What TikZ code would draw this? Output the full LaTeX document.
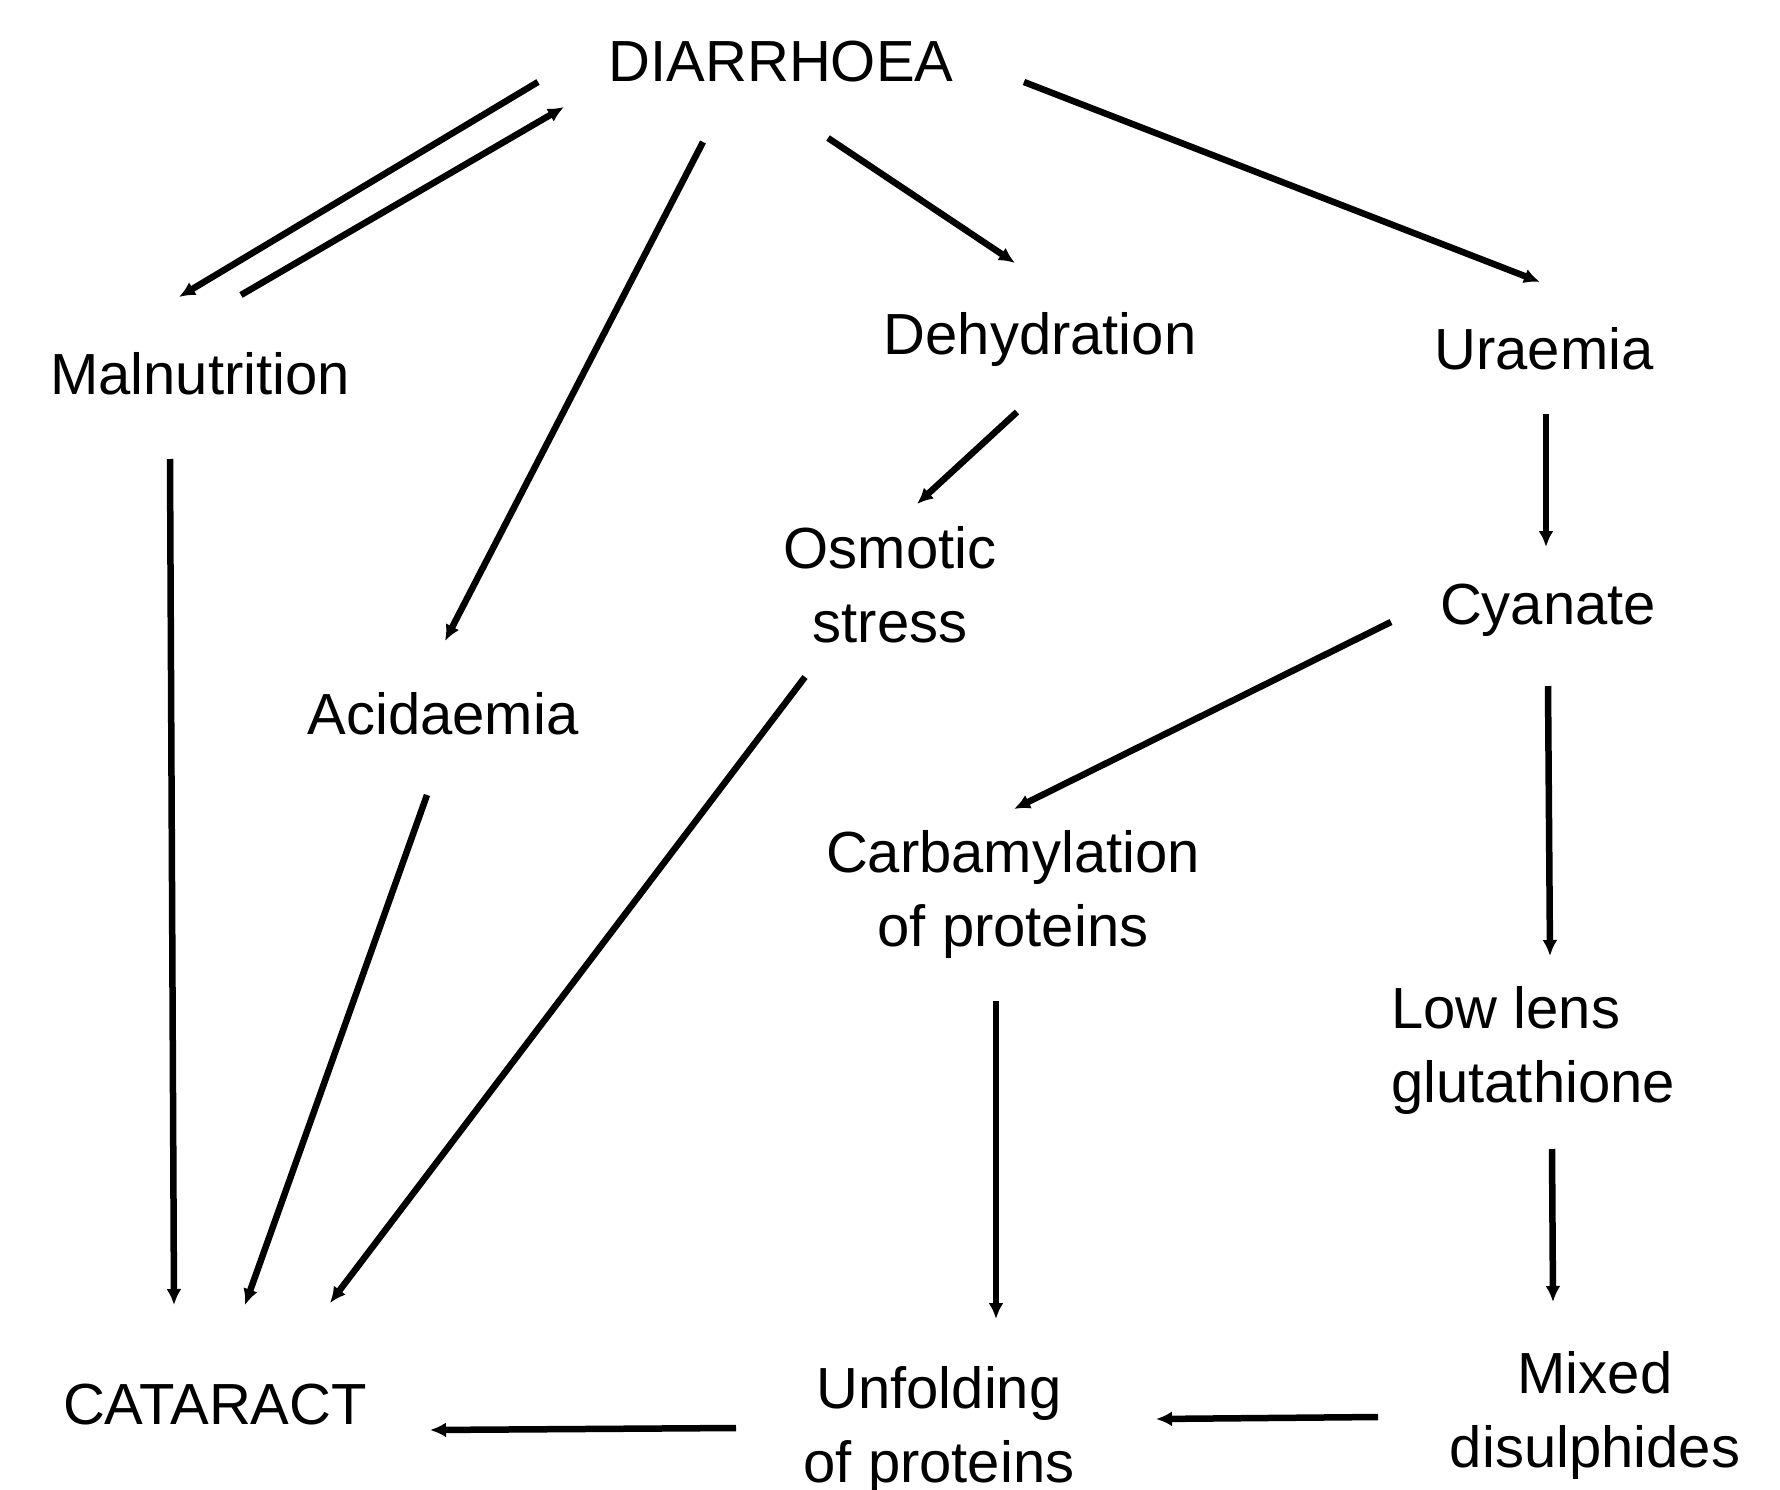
\documentclass[tikz,border=0pt]{standalone}
\usepackage{fontspec}
\setmainfont{Liberation Sans}
\usetikzlibrary{arrows.meta}
\begin{document}
\begin{tikzpicture}[x=1pt,y=-1pt,
  lbl/.style={inner sep=0pt,anchor=base,align=center,font=\fontsize{58}{74}\selectfont},
  conn/.style={line width=6.5pt,-{Latex[length=16pt,width=15pt]}}]
\useasboundingbox (0,0) rectangle (1780,1490);
\node[lbl] (dia) at (781,82) {DIARRHOEA};
\node[lbl] (mal) at (200,394) {Malnutrition};
\node[lbl] (deh) at (1040,354) {Dehydration};
\node[lbl] (ura) at (1544,369) {Uraemia};
\node[lbl] (osm) at (890,642) {Osmotic\\stress};
\node[lbl] (cya) at (1548,624) {Cyanate};
\node[lbl] (aci) at (443,734) {Acidaemia};
\node[lbl] (carb) at (1013,946) {Carbamylation\\of proteins};
\node[lbl,anchor=base west,align=left] (low) at (1391,1102) {Low lens\\glutathione};
\node[lbl] (cat) at (215,1424) {CATARACT};
\node[lbl] (unf) at (939,1482) {Unfolding\\of proteins};
\node[lbl] (mix) at (1595,1467) {Mixed\\disulphides};

\draw[conn] ([shift={(-243,0)}]dia.base) -- ([shift={(-21,-97)}]mal.base);
\draw[conn] ([shift={(41,-99)}]mal.base) -- ([shift={(-217,25)}]dia.base);
\draw[conn] ([shift={(-78,60)}]dia.base) -- ([shift={(2,-93)}]aci.base);
\draw[conn] ([shift={(47,56)}]dia.base) -- ([shift={(-25,-91)}]deh.base);
\draw[conn] ([shift={(243,0)}]dia.base) -- ([shift={(-4,-87)}]ura.base);
\draw[conn] ([shift={(-23,58)}]deh.base) -- ([shift={(27,-138)}]osm.base);
\draw[conn] ([shift={(2,45)}]ura.base) -- ([shift={(-2,-77)}]cya.base);
\draw[conn] ([shift={(-30,65)}]mal.base) -- ([shift={(-41,-119)}]cat.base);
\draw[conn] ([shift={(-16,61)}]aci.base) -- ([shift={(30,-119)}]cat.base);
\draw[conn] ([shift={(-85,35)}]osm.base) -- ([shift={(115,-121)}]cat.base);
\draw[conn] ([shift={(-157,-2)}]cya.base) -- ([shift={(1,-137)}]carb.base);
\draw[conn] ([shift={(0,62)}]cya.base) -- ([shift={(159,-146)}]low.base west);
\draw[conn] ([shift={(-17,55)}]carb.base) -- ([shift={(57,-163)}]unf.base);
\draw[conn] ([shift={(161,47)}]low.base west) -- ([shift={(-42,-165)}]mix.base);
\draw[conn] ([shift={(-217,-50)}]mix.base) -- ([shift={(217,-63)}]unf.base);
\draw[conn] ([shift={(-203,-54)}]unf.base) -- ([shift={(215,6)}]cat.base);
\end{tikzpicture}
\end{document}
